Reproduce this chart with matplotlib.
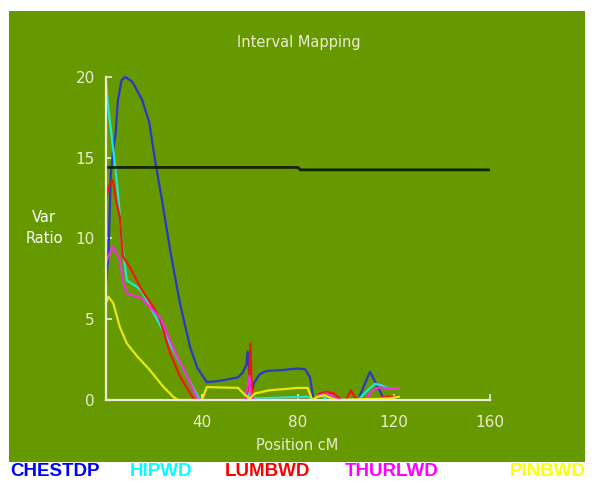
import matplotlib.pyplot as plt
from matplotlib.patches import Rectangle

# traits shown in the legend strip
traits = ['CHESTDP', 'HIPWD', 'LUMBWD', 'THURLWD', 'PINBWD']
colors = ['#2838c8', '#20e8d0', '#f01808', '#f030e0', '#e8e810']
legend_colors = ['#0000ff', '#00ffff', '#ff0000', '#ff00ff', '#ffff00']

# variance ratio profiles along the chromosome (cM, ratio)
chestdp_x = [0, 1, 2, 3, 4, 5, 6.5, 8, 11, 15, 18, 20.5, 23.3, 26.7, 30.8, 35, 38, 42, 48, 55, 57,
             58.5, 59, 59.8, 60.5, 61.5, 64, 67, 73, 80, 83, 85, 86.5, 95, 105, 110, 116, 122]
chestdp_y = [7.2, 9, 14, 15.5, 16.5, 18.6, 19.8, 20, 19.7, 18.6, 17.2, 14.8, 12.4, 9.3, 6.0, 3.3, 2.0,
             1.1, 1.2, 1.4, 1.7, 2.2, 3.0, 1.5, 0.3, 1.0, 1.6, 1.8, 1.85, 1.95, 1.9, 1.4, 0.0, 0.0, 0.0,
             1.75, 0.0, 0.0]

hipwd_x = [0, 1, 3.5, 5, 6, 6.7, 8.7, 13, 15, 19, 23, 28, 34, 39, 59, 60, 61, 63, 84, 86, 90, 92,
           105, 109, 112, 115, 118, 122]
hipwd_y = [19.7, 18, 14.9, 12.8, 11, 9.7, 7.4, 7.0, 6.7, 5.6, 4.5, 3.1, 1.4, 0, 0, 1.0, 0.2, 0.1,
           0.2, 0, 0.3, 0, 0, 0.6, 1.0, 0.9, 0.7, 0.7]

lumbwd_x = [0, 1, 2.9, 4, 5.8, 7, 10, 15, 20, 22.5, 26.7, 31, 36, 37, 58, 59.5, 60.2, 60.8, 61.5,
            87, 89, 92, 95, 98, 100, 102, 104, 106, 118, 122]
lumbwd_y = [12.3, 13.2, 13.6, 12.5, 11.3, 8.9, 8.2, 6.8, 5.7, 5.0, 2.9, 1.4, 0.2, 0, 0, 0.8, 3.5,
            0.5, 0, 0, 0.4, 0.5, 0.4, 0, 0, 0.6, 0.1, 0, 0.2, 0.2]

thurlwd_x = [0, 1, 2.9, 5.8, 7, 8.7, 15, 23, 29, 34, 38, 39, 58, 59.8, 60.5, 62, 87, 89, 92, 95,
             97, 108, 111, 114, 118, 122]
thurlwd_y = [8.5, 8.9, 9.5, 8.7, 7.4, 6.6, 6.3, 5.0, 2.9, 1.4, 0.1, 0, 0, 1.5, 0.2, 0, 0, 0.3,
             0.4, 0.2, 0, 0, 0.6, 0.8, 0.7, 0.7]

pinbwd_x = [0, 1, 3, 5.8, 8.7, 13, 18, 24, 28, 30, 40, 42, 55, 58, 60, 62, 68, 80, 84, 86, 88, 91,
            94, 96, 118, 122]
pinbwd_y = [6.0, 6.4, 6.0, 4.5, 3.5, 2.7, 1.9, 0.8, 0.2, 0, 0, 0.8, 0.75, 0.3, 0.1, 0.4, 0.6, 0.75,
            0.75, 0, 0.2, 0.3, 0.1, 0, 0.1, 0.2]

# significance threshold
thresh_x = [0, 80, 81, 160]
thresh_y = [14.4, 14.4, 14.25, 14.25]

profiles = [(chestdp_x, chestdp_y), (hipwd_x, hipwd_y), (lumbwd_x, lumbwd_y),
            (thurlwd_x, thurlwd_y), (pinbwd_x, pinbwd_y)]

W, H = 594, 483
fig = plt.figure(figsize=(W / 100, H / 100), dpi=100)
fig.patch.set_facecolor('white')
green = '#669900'
fig.patches.append(Rectangle((9 / W, 1 - 462 / H), 576 / W, 451 / H,
                             transform=fig.transFigure, facecolor=green, edgecolor='none',
                             zorder=-10))

ax = fig.add_axes([106 / W, 1 - 400 / H, 384 / W, 323 / H])
ax.set_facecolor('none')
cream = '#ecebd2'

for (xs, ys), c in zip(profiles, colors):
    ax.plot(xs, ys, color=c, lw=1.6, clip_on=False)
ax.plot(thresh_x, thresh_y, color='#142400', lw=2.0)

ax.set_xlim(0, 160)
ax.set_ylim(0, 20)
ax.set_xticks([40, 80, 120, 160])
ax.set_yticks([0, 5, 10, 15, 20])
for s in ['top', 'right']:
    ax.spines[s].set_visible(False)
for s in ['left', 'bottom']:
    ax.spines[s].set_color(cream)
    ax.spines[s].set_linewidth(1.6)
ax.tick_params(direction='in', length=4, width=1.2, color=cream, labelcolor=cream,
               labelsize=11)
ax.tick_params(axis='x', pad=11)
ax.tick_params(axis='y', pad=8)

fig.text(299 / W, 1 - 42 / H, 'Interval Mapping', color=cream, fontsize=10.5,
         ha='center', va='center')
fig.text(297 / W, 1 - 445 / H, 'Position cM', color=cream, fontsize=10.5,
         ha='center', va='center')
fig.text(44 / W, 1 - 228 / H, 'Var\nRatio', color='white', fontsize=10.5,
         ha='center', va='center', linespacing=1.5)

legend_x = [10, 130, 225, 345, 510]
for name, c, lx in zip(traits, legend_colors, legend_x):
    fig.text(lx / W, 1 - 472 / H, name, color=c,
             fontsize=13.5, fontweight='bold', family='Liberation Sans',
             ha='left', va='center')

fig.savefig('out.png', dpi=100)
